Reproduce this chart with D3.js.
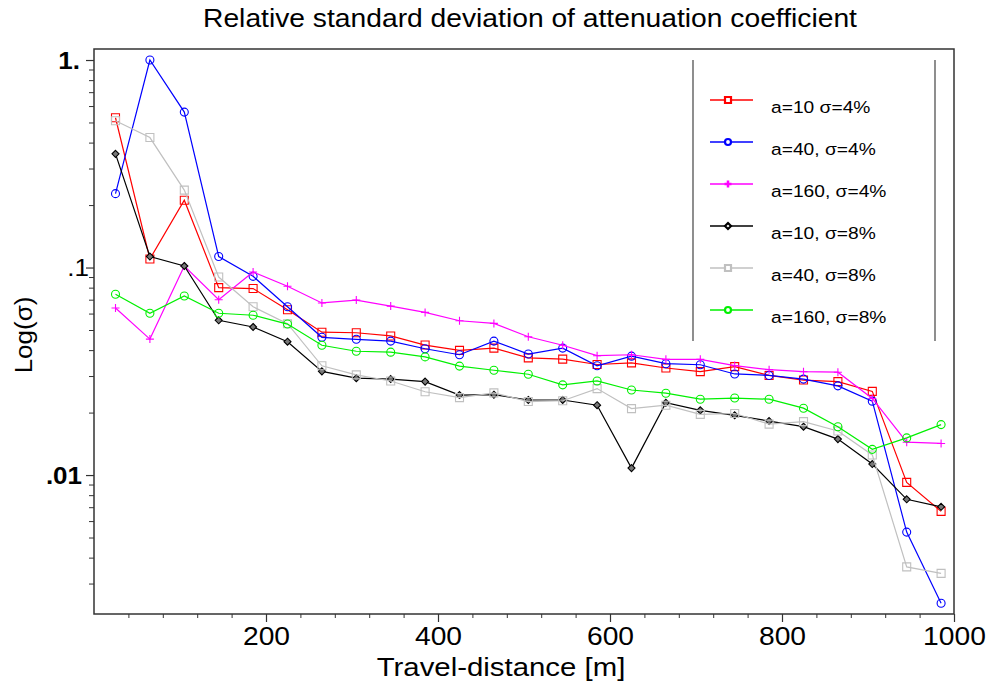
<!DOCTYPE html>
<html>
<head>
<meta charset="utf-8">
<script src="https://cdn.jsdelivr.net/npm/d3@7"></script>
<style>
  body { margin: 0; background: #fff; }
  svg { display: block; }
  text { fill: #000; font-family: Arial, 'Liberation Sans', sans-serif; }
</style>
</head>
<body>
<div id="chart"></div>
<script>
// --- Data ---
const distances = [25, 65, 105, 145, 185, 225, 265, 305, 345, 385, 425, 465, 505,
                   545, 585, 625, 665, 705, 745, 785, 825, 865, 905, 945, 985];

const red_a10_s4 = [0.527, 0.110, 0.211, 0.080, 0.0792, 0.0626, 0.0488, 0.0485, 0.0468, 0.0423,
  0.0399, 0.0409, 0.0367, 0.0362, 0.0341, 0.0347, 0.0328, 0.0315, 0.0333, 0.0302,
  0.0287, 0.0282, 0.0253, 0.00922, 0.00668];
const blue_a40_s4 = [0.227, 1.0, 0.561, 0.113, 0.0907, 0.0647, 0.0461, 0.0451, 0.0442, 0.0406,
  0.0380, 0.0442, 0.0383, 0.0409, 0.0336, 0.0374, 0.0344, 0.0340, 0.0307, 0.0302,
  0.0290, 0.0269, 0.0227, 0.00531, 0.00241];
const mag_a160_s4 = [0.0638, 0.0452, 0.1017, 0.070, 0.0951, 0.0812, 0.0675, 0.0697, 0.0652, 0.0608,
  0.0554, 0.0538, 0.0464, 0.0422, 0.0376, 0.0380, 0.0361, 0.0361, 0.0337, 0.0322,
  0.0315, 0.0313, 0.0234, 0.0144, 0.0142];
const black_a10_s8 = [0.353, 0.113, 0.1017, 0.0557, 0.0517, 0.0439, 0.0316, 0.0293, 0.0290, 0.0282,
  0.0243, 0.0244, 0.0230, 0.0230, 0.0217, 0.0108, 0.0223, 0.0205, 0.0194, 0.0182,
  0.0171, 0.0149, 0.0113, 0.00764, 0.00703];
const gray_a40_s8 = [0.510, 0.423, 0.236, 0.090, 0.0647, 0.0536, 0.0336, 0.0304, 0.0284, 0.0252,
  0.0236, 0.0249, 0.0226, 0.0228, 0.0261, 0.0209, 0.0217, 0.0196, 0.0198, 0.0176,
  0.0181, 0.0163, 0.0125, 0.00361, 0.00336];
const green_a160_s8 = [0.0743, 0.0602, 0.0729, 0.0602, 0.0589, 0.0534, 0.0422, 0.0395, 0.0391, 0.0371,
  0.0335, 0.0320, 0.0306, 0.0272, 0.0284, 0.0257, 0.0248, 0.0232, 0.0235, 0.0232,
  0.0210, 0.0171, 0.0133, 0.0151, 0.0175];

const seriesNames = ["a=10 σ=4%", "a=40, σ=4%", "a=160, σ=4%", "a=10, σ=8%", "a=40, σ=8%", "a=160, σ=8%"];
const xTickValues = [200, 400, 600, 800, 1000];
const yTickValues = [1, 0.1, 0.01];
const yTickLabels = ["1.", ".1", ".01"];

// --- Configuration ---
const W = 988, H = 684;
const margin = { top: 49, right: 34, bottom: 70, left: 94 };
const width = W - margin.left - margin.right;
const height = H - margin.top - margin.bottom;
const stretch = 1.13; // le texte de l'original est un peu élargi

const series = [
  { name: seriesNames[0], values: red_a10_s4, color: "#ff0000", marker: "square" },
  { name: seriesNames[1], values: blue_a40_s4, color: "#0000ff", marker: "circle" },
  { name: seriesNames[2], values: mag_a160_s4, color: "#ff00ff", marker: "plus" },
  { name: seriesNames[3], values: black_a10_s8, color: "#000000", marker: "diamond" },
  { name: seriesNames[4], values: gray_a40_s8, color: "#c0c0c0", marker: "square" },
  { name: seriesNames[5], values: green_a160_s8, color: "#00f000", marker: "circle" }
];

const svg = d3.select("#chart").append("svg")
  .attr("width", W).attr("height", H);

const g = svg.append("g")
  .attr("transform", `translate(${margin.left},${margin.top})`);

// Echelles
const x = d3.scaleLinear().domain([0, 1000]).range([0, width]);
const y = d3.scaleLog().domain([0.00214, 1.13]).range([height, 0]);

// Ticks mineurs
const xMinor = d3.range(40, 1000, 40).filter(v => v % 200 !== 0);
const yMinor = [];
[0.001, 0.01, 0.1].forEach(base => {
  for (let k = 2; k <= 9; k++) {
    const v = base * k;
    if (v > y.domain()[0] && v < y.domain()[1]) yMinor.push(v);
  }
});

// Axe X
const xAxis = g.append("g").attr("transform", `translate(0,${height})`);
xAxis.call(d3.axisBottom(x).tickValues(xTickValues).tickSize(8).tickSizeOuter(0)
  .tickFormat(d3.format("d")));
xAxis.select(".domain").remove();
xAxis.selectAll("line").attr("stroke", "#333").attr("stroke-width", 1.2);
xAxis.selectAll("text")
  .attr("y", 0).attr("dy", null)
  .attr("transform", `translate(0,31) scale(${stretch},1)`)
  .style("font-size", "25px");
g.append("g").attr("transform", `translate(0,${height})`)
  .call(d3.axisBottom(x).tickValues(xMinor).tickSize(4).tickFormat(""))
  .call(a => a.select(".domain").remove())
  .selectAll("line").attr("stroke", "#333");

// Axe Y
const yOffsets = [-14, -5, -12];
const yAxis = g.append("g");
yAxis.call(d3.axisLeft(y).tickValues(yTickValues).tickSize(8)
  .tickFormat((d, i) => yTickLabels[i]));
yAxis.select(".domain").remove();
yAxis.selectAll("line").attr("stroke", "#333").attr("stroke-width", 1.2);
yAxis.selectAll("text")
  .attr("x", 0).attr("dy", "0.36em")
  .attr("transform", (d, i) => `translate(${yOffsets[i]},0) scale(${stretch},1)`)
  .style("font-size", "23px")
  .style("font-weight", (d, i) => i === 1 ? "normal" : "bold");
g.append("g")
  .call(d3.axisLeft(y).tickValues(yMinor).tickSize(5).tickFormat(""))
  .call(a => a.select(".domain").remove())
  .selectAll("line").attr("stroke", "#333");

// Cadre
g.append("rect")
  .attr("width", width).attr("height", height)
  .attr("fill", "none").attr("stroke", "#333").attr("stroke-width", 1.5);

// Marqueurs
function markerPath(type, s) {
  if (type === "square") return `M${-s},${-s}H${s}V${s}H${-s}Z`;
  if (type === "circle") return d3.symbol(d3.symbolCircle, Math.PI * s * s)();
  if (type === "plus") return `M${-s},0H${s}M0,${-s}V${s}`;
  if (type === "diamond") return `M0,${-s}L${s},0L0,${s}L${-s},0Z`;
}

const line = d3.line()
  .x((d, i) => x(distances[i]))
  .y(d => y(d));

const plot = g.append("g");
series.forEach(s => {
  plot.append("path")
    .attr("d", line(s.values))
    .attr("fill", "none")
    .attr("stroke", s.color)
    .attr("stroke-width", 1.2);
  plot.selectAll(null)
    .data(s.values)
    .join("path")
    .attr("transform", (d, i) => `translate(${x(distances[i])},${y(d)})`)
    .attr("d", markerPath(s.marker, s.marker === "diamond" ? 3.5 : 4))
    .attr("fill", s.marker === "diamond" ? "#777" : "none")
    .attr("stroke", s.color)
    .attr("stroke-width", 1.1);
});

// Légende
const legend = svg.append("g");
legend.append("line").attr("x1", 693).attr("x2", 693).attr("y1", 60).attr("y2", 341)
  .attr("stroke", "#444").attr("stroke-width", 1.2);
legend.append("line").attr("x1", 935).attr("x2", 935).attr("y1", 60).attr("y2", 341)
  .attr("stroke", "#444").attr("stroke-width", 1.2);

const items = legend.selectAll(".item")
  .data(series)
  .join("g")
  .attr("class", "item")
  .attr("transform", (d, i) => `translate(710, ${100 + i * 42})`);
items.append("line").attr("x1", 0).attr("x2", 43)
  .attr("stroke", d => d.color).attr("stroke-width", 1.3);
items.append("path")
  .attr("transform", "translate(18,0)")
  .attr("d", d => markerPath(d.marker, d.marker === "plus" ? 3.5 : 3))
  .attr("fill", d => d.marker === "plus" ? "none" : "#fff")
  .attr("stroke", d => d.color)
  .attr("stroke-width", d => d.marker === "plus" ? 2.5 : 2.2);
items.append("text")
  .attr("transform", `translate(61,12.5) scale(${stretch},1)`)
  .style("font-size", "17px")
  .text(d => d.name);

// Titres
svg.append("text")
  .attr("transform", `translate(530,27) scale(${stretch},1)`)
  .attr("text-anchor", "middle")
  .style("font-size", "25px")
  .text("Relative standard deviation of attenuation coefficient");

svg.append("text")
  .attr("transform", `translate(501,676) scale(${stretch},1)`)
  .attr("text-anchor", "middle")
  .style("font-size", "26px")
  .text("Travel-distance [m]");

svg.append("text")
  .attr("transform", "translate(32,335) rotate(-90) scale(1.13,1)")
  .attr("text-anchor", "middle")
  .style("font-size", "23px")
  .text("Log(σ)");
</script>
</body>
</html>
